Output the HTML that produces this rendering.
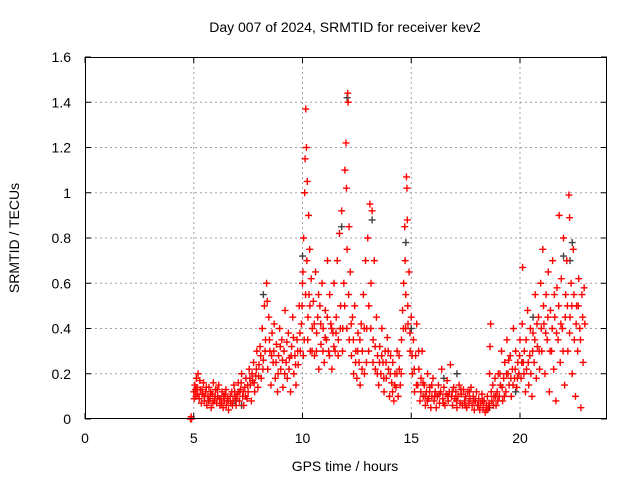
<!DOCTYPE html>
<html><head><meta charset="utf-8"><style>
body{margin:0;background:#fff}
svg{display:block;font-family:"Liberation Sans",sans-serif}
</style></head><body>
<svg id="chart" width="640" height="480" viewBox="0 0 640 480">
<rect width="640" height="480" fill="#fff"/>
<g id="grid"></g>
<g id="gray"></g>
<g id="red"></g>
<g id="axes"></g>
<text x="345" y="32" font-size="14" text-anchor="middle">Day 007 of 2024, SRMTID for receiver kev2</text>
<text x="345" y="471" font-size="14" text-anchor="middle">GPS time / hours</text>
<text transform="translate(19,238) rotate(-90)" font-size="14" text-anchor="middle">SRMTID / TECUs</text>
</svg>
<script>
const xTicks=[0,5,10,15,20];
const yTicks=[0,0.2,0.4,0.6,0.8,1,1.2,1.4,1.6];
const yTickLabels=["0","0.2","0.4","0.6","0.8","1","1.2","1.4","1.6"];
const redPoints=[[4.85,0.0],[4.88,0.01],[4.9,0.0],
[5.0,0.12],[5.05,0.15],[5.1,0.1],[5.12,0.18],[5.15,0.14],[5.2,0.2],[5.25,0.09],[5.3,0.13],[5.35,0.07],[5.4,0.11],[5.45,0.16],[5.5,0.08],[5.55,0.12],[5.6,0.06],[5.65,0.1],[5.7,0.14],[5.75,0.09],[5.8,0.05],[5.85,0.11],[5.9,0.16],[5.95,0.08],[6.0,0.13],[6.05,0.07],[6.1,0.1],[6.15,0.15],[6.2,0.06],[6.25,0.09],[6.3,0.12],[6.35,0.05],[6.4,0.08],[6.45,0.11],[6.5,0.06],[6.55,0.09],[6.6,0.04],[6.7,0.07],[6.75,0.12],[6.8,0.08],[6.85,0.15],[6.9,0.1],[6.95,0.06],
[7.0,0.11],[7.05,0.16],[7.1,0.08],[7.15,0.13],[7.2,0.2],[7.25,0.1],[7.3,0.06],[7.35,0.14],[7.4,0.18],[7.45,0.09],[7.5,0.12],[7.55,0.22],[7.6,0.15],[7.65,0.08],[7.7,0.17],[7.75,0.25],[7.8,0.12],[7.85,0.19],[7.9,0.3],[7.95,0.14],
[8.0,0.24],[8.05,0.32],[8.1,0.18],[8.15,0.4],[8.2,0.26],[8.25,0.5],[8.3,0.35],[8.35,0.6],[8.4,0.22],[8.45,0.45],[8.5,0.3],[8.55,0.15],[8.6,0.38],[8.65,0.25],[8.7,0.42],[8.75,0.18],[8.8,0.33],[8.85,0.12],[8.9,0.28],[8.95,0.4],[9.0,0.22],[9.05,0.35],[9.1,0.14],[9.15,0.3],[9.2,0.48],[9.25,0.25],[9.3,0.18],[9.35,0.38],[9.4,0.27],[9.45,0.12],[9.5,0.32],[9.55,0.45],[9.6,0.2],[9.65,0.28],[9.7,0.15],[9.75,0.35],[9.8,0.24],[9.85,0.5],[9.9,0.3],[9.95,0.42],
[10.0,0.6],[10.02,0.65],[10.05,0.8],[10.08,0.35],[10.1,1.0],[10.12,1.15],[10.15,1.37],[10.18,1.2],[10.2,0.7],[10.22,1.05],[10.25,0.45],[10.28,0.9],[10.3,0.55],[10.33,0.75],[10.36,0.3],[10.4,0.62],[10.45,0.4],[10.5,0.52],
[10.55,0.28],[10.6,0.65],[10.65,0.38],[10.7,0.45],[10.75,0.22],[10.8,0.5],[10.85,0.33],[10.9,0.6],[10.95,0.4],[11.0,0.25],[11.05,0.48],[11.1,0.35],[11.15,0.7],[11.2,0.3],[11.25,0.55],[11.3,0.42],[11.35,0.22],[11.4,0.38],[11.45,0.6],[11.5,0.3],
[11.55,0.45],[11.6,0.7],[11.65,0.35],[11.7,0.82],[11.75,0.5],[11.8,0.92],[11.85,0.4],[11.9,0.6],[11.95,1.1],[12.0,1.22],[12.02,1.02],[12.05,0.75],[12.08,1.44],[12.1,1.4],[12.12,0.55],[12.15,0.35],[12.2,0.65],[12.25,0.28],[12.3,0.45],[12.35,0.2],[12.4,0.5],[12.45,0.3],[12.5,0.18],
[12.55,0.38],[12.6,0.25],[12.65,0.15],[12.7,0.42],[12.75,0.3],[12.8,0.55],[12.85,0.2],[12.9,0.7],[12.95,0.4],[13.0,0.8],[13.05,0.5],[13.1,0.95],[13.15,0.6],[13.2,0.92],[13.25,0.35],[13.3,0.7],[13.35,0.22],[13.4,0.45],[13.45,0.28],[13.5,0.15],
[13.55,0.32],[13.6,0.2],[13.65,0.4],[13.7,0.25],[13.75,0.12],[13.8,0.3],[13.85,0.18],[13.9,0.36],[13.95,0.22],[14.0,0.1],[14.05,0.28],[14.1,0.16],[14.15,0.25],[14.2,0.08],[14.25,0.2],[14.3,0.14],[14.35,0.3],[14.4,0.1],[14.45,0.22],[14.5,0.15],[14.55,0.35],[14.6,0.48],[14.65,0.6],
[14.7,0.85],[14.72,0.7],[14.75,0.55],[14.78,1.07],[14.8,1.02],[14.82,0.88],[14.85,0.42],[14.9,0.65],[14.95,0.3],[15.0,0.45],
[15.05,0.2],[15.1,0.35],[15.15,0.12],[15.2,0.28],[15.25,0.42],[15.3,0.15],[15.35,0.22],[15.4,0.08],[15.45,0.18],[15.5,0.3],[15.55,0.1],[15.6,0.15],[15.65,0.06],[15.7,0.12],[15.75,0.2],[15.8,0.09],[15.85,0.14],[15.9,0.05],[15.95,0.1],
[16.0,0.18],[16.05,0.08],[16.1,0.12],[16.15,0.05],[16.2,0.1],[16.25,0.15],[16.3,0.07],[16.35,0.12],[16.4,0.22],[16.45,0.09],[16.5,0.14],[16.55,0.06],[16.6,0.11],[16.65,0.17],[16.7,0.08],[16.75,0.12],[16.8,0.24],[16.85,0.1],[16.9,0.06],[16.95,0.14],[17.0,0.09],[17.05,0.12],[17.1,0.05],[17.15,0.1],[17.2,0.15],[17.25,0.07],[17.3,0.11],[17.35,0.06],[17.4,0.13],[17.45,0.08],[17.5,0.1],[17.55,0.05],[17.6,0.12],[17.65,0.07],[17.7,0.09],[17.75,0.14],[17.8,0.06],[17.85,0.1],[17.9,0.04],[17.95,0.08],[18.0,0.12],[18.05,0.06],[18.1,0.09],[18.15,0.04],[18.2,0.07],[18.25,0.11],[18.3,0.05],[18.35,0.08],[18.4,0.03],[18.45,0.06],
[18.5,0.1],[18.55,0.05],[18.6,0.2],[18.62,0.32],[18.65,0.42],[18.7,0.08],[18.75,0.15],[18.8,0.1],[18.85,0.18],[18.9,0.06],[18.95,0.12],[19.0,0.2],[19.05,0.1],[19.1,0.15],[19.15,0.3],[19.2,0.08],[19.25,0.18],[19.3,0.25],[19.35,0.12],[19.4,0.35],[19.45,0.2],[19.5,0.15],[19.55,0.28],[19.6,0.1],[19.65,0.22],[19.7,0.4],[19.75,0.18],[19.8,0.3],[19.85,0.14],[19.9,0.25],[19.95,0.2],
[20.0,0.35],[20.05,0.18],[20.1,0.42],[20.12,0.67],[20.15,0.25],[20.2,0.3],[20.25,0.12],[20.3,0.22],[20.35,0.48],[20.4,0.15],[20.45,0.28],[20.5,0.2],[20.55,0.1],[20.6,0.38],[20.65,0.25],[20.7,0.55],[20.75,0.18],[20.8,0.32],[20.85,0.45],[20.9,0.22],[20.95,0.6],
[21.0,0.3],[21.05,0.75],[21.1,0.42],[21.15,0.2],[21.2,0.55],[21.25,0.35],[21.3,0.65],[21.35,0.12],[21.4,0.48],[21.45,0.3],[21.5,0.7],[21.55,0.22],[21.6,0.45],[21.65,0.08],[21.7,0.58],[21.75,0.35],[21.8,0.9],[21.85,0.25],[21.9,0.62],[21.95,0.4],[22.0,0.8],[22.05,0.15],[22.1,0.55],[22.15,0.7],[22.2,0.3],[22.25,0.99],[22.28,0.89],[22.3,0.45],[22.35,0.6],[22.4,0.2],[22.45,0.75],[22.5,0.35],[22.55,0.1],[22.6,0.5],[22.65,0.3],[22.7,0.62],[22.75,0.4],[22.8,0.05],[22.85,0.55],[22.9,0.25],[22.95,0.58]];
const redPointsExtra=[
[5.02,0.09],[5.08,0.13],[5.18,0.11],[5.28,0.17],[5.38,0.13],[5.48,0.1],[5.58,0.14],[5.68,0.08],[5.78,0.12],[5.88,0.07],[5.98,0.1],[6.08,0.13],[6.18,0.09],[6.28,0.07],[6.38,0.1],[6.48,0.13],[6.58,0.08],[6.68,0.1],[6.78,0.06],[6.88,0.12],[6.98,0.09],[7.08,0.12],[7.18,0.16],[7.28,0.12],[7.38,0.1],[7.48,0.15],[7.58,0.18],[7.68,0.2],[7.78,0.16],[7.88,0.22],[7.98,0.19],
[8.08,0.28],[8.18,0.22],[8.28,0.3],[8.38,0.52],[8.48,0.35],[8.58,0.28],[8.68,0.3],[8.78,0.25],[8.88,0.2],[8.98,0.32],[9.08,0.26],[9.18,0.2],[9.28,0.34],[9.38,0.22],[9.48,0.28],[9.58,0.36],[9.68,0.24],[9.78,0.3],[9.88,0.38],[9.98,0.5],
[10.04,0.28],[10.14,0.55],[10.24,0.35],[10.34,0.5],[10.44,0.3],[10.54,0.42],[10.64,0.3],[10.74,0.55],[10.84,0.42],[10.94,0.3],[11.04,0.36],[11.14,0.45],[11.24,0.28],[11.34,0.4],[11.44,0.32],[11.54,0.38],[11.64,0.28],[11.74,0.4],[11.84,0.3],[11.94,0.5],[12.04,0.4],[12.14,0.85],[12.24,0.42],[12.34,0.35],[12.44,0.25],[12.54,0.3],[12.64,0.35],[12.74,0.22],[12.84,0.4],[12.94,0.25],[13.04,0.3],[13.14,0.4],[13.24,0.25],[13.34,0.32],[13.44,0.2],[13.54,0.25],[13.64,0.28],[13.74,0.18],[13.84,0.25],[13.94,0.3],[14.04,0.2],[14.14,0.12],[14.24,0.15],[14.34,0.2],[14.44,0.28],[14.54,0.2],[14.64,0.4],[14.74,0.4],[14.84,0.5],[14.94,0.38],[15.04,0.28],[15.14,0.22],[15.24,0.15],[15.34,0.3],[15.44,0.12],[15.54,0.16],[15.64,0.1],[15.74,0.08],[15.84,0.12],[15.94,0.15],
[16.08,0.1],[16.28,0.11],[16.48,0.07],[16.68,0.1],[16.88,0.12],[17.08,0.08],[17.28,0.13],[17.48,0.06],[17.68,0.12],[17.88,0.08],[18.08,0.06],[18.28,0.08],[18.48,0.04],[18.58,0.07],[18.68,0.12],[18.78,0.06],[18.88,0.1],[18.98,0.08],[19.08,0.2],[19.18,0.14],[19.28,0.1],[19.38,0.2],[19.48,0.26],[19.58,0.18],[19.68,0.15],[19.78,0.22],[19.88,0.18],[19.98,0.28],
[20.08,0.25],[20.18,0.2],[20.28,0.35],[20.38,0.25],[20.48,0.4],[20.58,0.3],[20.68,0.35],[20.78,0.42],[20.88,0.3],[20.98,0.4],[21.08,0.5],[21.18,0.38],[21.28,0.45],[21.38,0.3],[21.48,0.4],[21.58,0.55],[21.68,0.38],[21.78,0.5],[21.88,0.42],[21.98,0.3],[22.08,0.45],[22.18,0.5],[22.28,0.38],[22.38,0.5],[22.48,0.55],[22.58,0.42],[22.68,0.5],[22.78,0.35],[22.88,0.45],[22.98,0.42]];
const grayPoints=[[6.9,0.08],[7.2,0.06],[8.2,0.55],[10.0,0.72],[11.8,0.85],[12.05,1.42],[13.2,0.88],[14.75,0.78],[15.0,0.4],[16.5,0.18],[17.1,0.2],[18.6,0.05],[19.8,0.12],[20.6,0.45],[22.0,0.72],[22.3,0.7],[22.4,0.78]];

const L=85,R=607,T=57,B=419,XMAX=24,YMAX=1.6;
const xs=v=>L+(R-L)*v/XMAX;
const ys=v=>B-(B-T)*v/YMAX;
const NS="http://www.w3.org/2000/svg";
function mk(tag,attrs,parent){const e=document.createElementNS(NS,tag);for(const k in attrs)e.setAttribute(k,attrs[k]);parent.appendChild(e);return e;}
const grid=document.getElementById('grid'),axes=document.getElementById('axes');
xTicks.forEach(t=>{
  const x=xs(t);
  if(t>0){const g=mk('line',{x1:x,x2:x,y1:T,y2:B,stroke:'#a0a0a0','stroke-dasharray':'2,3'},grid);
  
  }
  mk('line',{x1:x,x2:x,y1:B,y2:B-6,stroke:'#000'},axes);
  mk('line',{x1:x,x2:x,y1:T,y2:T+6,stroke:'#000'},axes);
  const lb=mk('text',{x:x,y:B+24,'font-size':14,'text-anchor':'middle'},axes);
  lb.textContent=String(t);
  
  
});
yTicks.forEach((t,i)=>{
  const y=ys(t);
  if(t>0&&t<YMAX){const g=mk('line',{x1:L,x2:R,y1:y,y2:y,stroke:'#a0a0a0','stroke-dasharray':'2,3'},grid);
  
  }
  mk('line',{x1:L,x2:L+6,y1:y,y2:y,stroke:'#000'},axes);
  mk('line',{x1:R,x2:R-6,y1:y,y2:y,stroke:'#000'},axes);
  const lb=mk('text',{x:L-14,y:y+5,'font-size':14,'text-anchor':'end'},axes);
  lb.textContent=yTickLabels[i];
  
  
});
const fr=mk('rect',{x:L+0.5,y:T+0.5,width:R-L-1,height:B-T-1,fill:'none',stroke:'#000'},axes);


function plot(pts,color,gid){
  const g=document.getElementById(gid);
  let d='';
  pts.forEach(p=>{const x=xs(p[0]),y=ys(p[1]);d+=`M${x-3.5},${y}h7M${x},${y-3.5}v7`;});
  const path=mk('path',{d:d,stroke:color,'stroke-width':1.4,fill:'none'},g);
  
  
}
plot(grayPoints,'#404040','gray');
plot(redPoints,'#ff0000','red');
plot(redPointsExtra,'#ff0000','red');
</script>
</body></html>
